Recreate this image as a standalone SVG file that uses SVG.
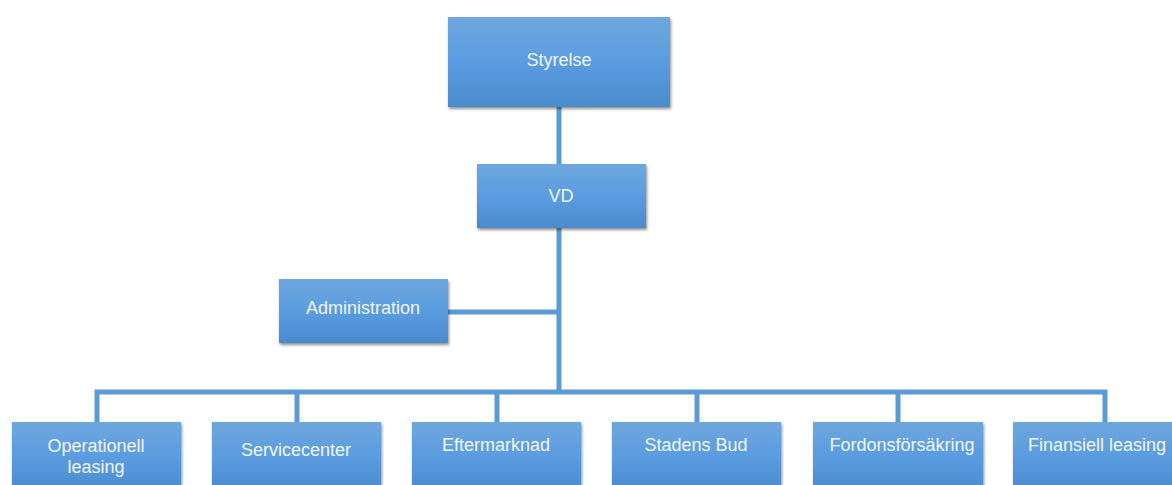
<svg xmlns="http://www.w3.org/2000/svg" width="1172" height="485" viewBox="0 0 1172 485">
<defs>
<linearGradient id="g" x1="0" y1="0" x2="0" y2="1">
<stop offset="0" stop-color="#6ea7dd"/>
<stop offset="0.5" stop-color="#5a9ce0"/>
<stop offset="1" stop-color="#4a8bcd"/>
</linearGradient>
<filter id="sh" x="-10%" y="-10%" width="125%" height="130%">
<feGaussianBlur in="SourceAlpha" stdDeviation="1.5"/>
<feOffset dx="1" dy="2" result="b"/>
<feComponentTransfer><feFuncA type="linear" slope="0.45"/></feComponentTransfer>
<feMerge><feMergeNode/><feMergeNode in="SourceGraphic"/></feMerge>
</filter>
</defs>
<style>
.box{fill:url(#g);filter:url(#sh)}
.t{font-family:"Liberation Sans",Arial,sans-serif;font-size:18px;fill:#f2f6fb;text-anchor:middle}
.c{stroke:#5b9bd5;stroke-width:5;fill:none}
</style>
<rect width="1172" height="485" fill="#ffffff"/>
<g id="connectors">
<path class="c" d="M559,107 V164"/>
<path class="c" d="M559,228 V392"/>
<path class="c" d="M448,312 H559"/>
<path class="c" d="M97,422 V392 H1105 V422"/>
<path class="c" d="M297,392 V422 M497,392 V422 M697,392 V422 M898,392 V422"/>
</g>
<g id="styrelse"><rect class="box" x="448" y="17" width="222" height="90"/><text class="t" x="559" y="66">Styrelse</text></g>
<g id="vd"><rect class="box" x="477" y="164" width="169" height="64"/><text class="t" x="561" y="202">VD</text></g>
<g id="administration"><rect class="box" x="279" y="279" width="169" height="64"/><text class="t" x="363" y="314">Administration</text></g>
<g id="operationell"><rect class="box" x="12" y="422" width="169" height="70"/><text class="t" x="96" y="452">Operationell</text><text class="t" x="96" y="473">leasing</text></g>
<g id="servicecenter"><rect class="box" x="212" y="422" width="169" height="70"/><text class="t" x="296" y="456">Servicecenter</text></g>
<g id="eftermarknad"><rect class="box" x="412" y="422" width="169" height="70"/><text class="t" x="496" y="451">Eftermarknad</text></g>
<g id="stadensbud"><rect class="box" x="612" y="422" width="169" height="70"/><text class="t" x="696" y="451">Stadens Bud</text></g>
<g id="fordonsforsakring"><rect class="box" x="813" y="422" width="170" height="70"/><text class="t" x="902" y="451">Fordonsförsäkring</text></g>
<g id="finansiell"><rect class="box" x="1013" y="422" width="170" height="70"/><text class="t" x="1097" y="451">Finansiell leasing</text></g>
</svg>
